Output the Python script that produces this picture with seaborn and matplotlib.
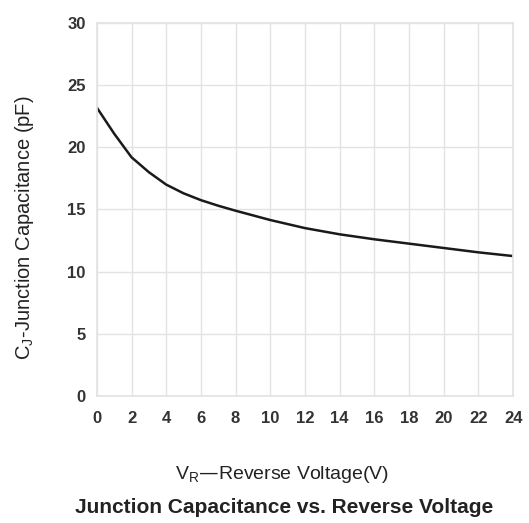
import pandas as pd
import seaborn as sns
import matplotlib.pyplot as plt

# reverse voltage (V) and junction capacitance (pF)
vr = [0, 1, 2, 3, 4, 5, 6, 7, 8, 10, 12, 14, 16, 18, 20, 22, 24]
cj = [23.2, 21.1, 19.2, 18.0, 17.0, 16.3, 15.75, 15.3, 14.9, 14.15, 13.5, 13.0, 12.6, 12.25, 11.9, 11.55, 11.25]

x_ticks = list(range(0, 25, 2))
y_ticks = [0, 5, 10, 15, 20, 25, 30]

df = pd.DataFrame({'vr': vr, 'cj': cj})

sns.set_theme(style="whitegrid")
plt.rcParams['font.family'] = ['Liberation Sans', 'DejaVu Sans']

fig = plt.figure(figsize=(5.29, 5.23), dpi=100)
ax = fig.add_axes([0.183, 0.243, 0.787, 0.713])

sns.lineplot(data=df, x='vr', y='cj', color='#1a1a1a', linewidth=1.8, ax=ax)

ax.set_xlim(0, 24)
ax.set_ylim(0, 30)
ax.set_xticks(x_ticks)
ax.set_yticks(y_ticks)
ax.grid(True, color='#e3e3e3', linewidth=1.0)
for s in ax.spines.values():
    s.set_color('#e3e3e3')
ax.tick_params(axis='both', length=0, labelsize=12, colors='#333333')
ax.tick_params(axis='x', pad=11)
ax.tick_params(axis='y', pad=8)
for lbl in ax.get_xticklabels() + ax.get_yticklabels():
    lbl.set_fontweight('bold')

ax.set_xlabel('')
ax.set_ylabel('')

fig.text(0.047, 0.564, r'C$_\mathregular{J}$-Junction Capacitance (pF)', rotation=90,
         ha='center', va='center', fontsize=14.5, color='#222222')
fig.text(0.533, 0.092, r'V$_\mathregular{R}$—Reverse Voltage(V)', ha='center', va='center',
         fontsize=14, color='#222222')
fig.text(0.537, 0.029, 'Junction Capacitance vs. Reverse Voltage', ha='center', va='center',
         fontsize=15, fontweight='bold', color='#222222')

plt.savefig('out.png', dpi=100)
